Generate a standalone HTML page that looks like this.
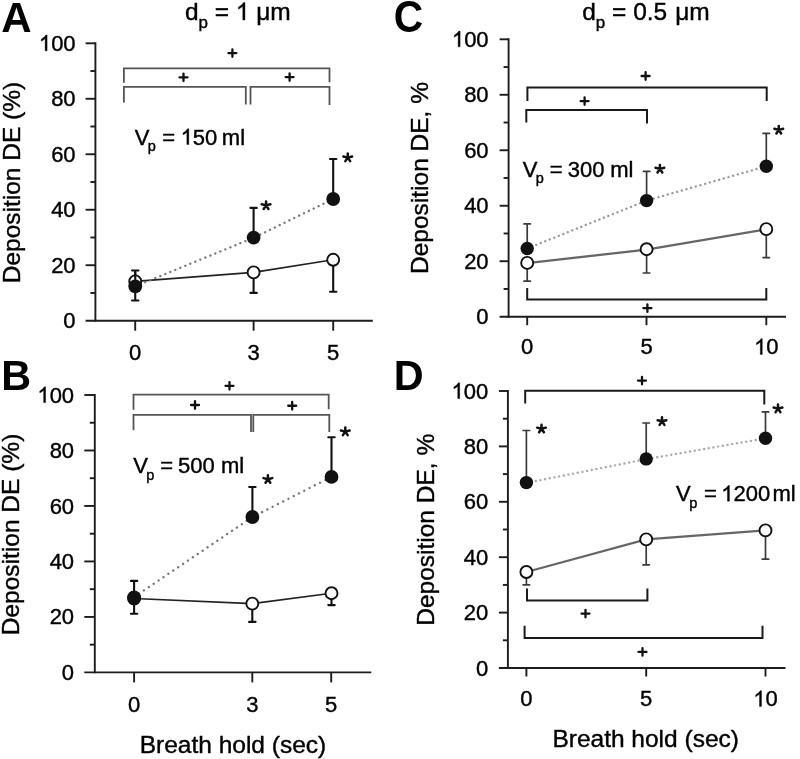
<!DOCTYPE html><html><head><meta charset="utf-8"><style>html,body{margin:0;padding:0;background:#fff;}svg{display:block;filter:blur(0.4px);}text{font-family:"Liberation Sans",sans-serif;fill:#000;stroke:#000;stroke-width:0.4px;}</style></head><body>
<svg width="800" height="759" viewBox="0 0 800 759">
<rect width="800" height="759" fill="#fff"/>
<defs><path id="one" d="M372.6,0 L284.7,0 L284.7,-560.1 Q210,-490 108.9,-441.4 L108.9,-526.4 Q240,-585 318,-715.8 L372.6,-715.8 Z" fill="#000" stroke="#000" stroke-width="0.4" vector-effect="non-scaling-stroke"/></defs>
<text x="1.35" y="31.60" font-size="42.5" font-weight="bold" style="stroke-width:0" textLength="30.36" lengthAdjust="spacingAndGlyphs" >A</text>
<text x="1.34" y="389.70" font-size="43" font-weight="bold" style="stroke-width:0" textLength="29.84" lengthAdjust="spacingAndGlyphs" >B</text>
<text x="393.73" y="32.20" font-size="44" font-weight="bold" style="stroke-width:0" textLength="29.38" lengthAdjust="spacingAndGlyphs" >C</text>
<text x="393.83" y="389.70" font-size="43" font-weight="bold" style="stroke-width:0" textLength="29.91" lengthAdjust="spacingAndGlyphs" >D</text>
<text x="184.97" y="20.00" font-size="24.5" >d</text>
<text x="198.40" y="27.60" font-size="17" >p</text>
<text x="214.70" y="20.00" font-size="24.5" >=</text>
<use href="#one" transform="translate(235.82,20.00) scale(0.02450)"/>
<text x="256.26" y="20.00" font-size="24.5" >μm</text>
<text x="582.22" y="19.90" font-size="24.5" >d</text>
<text x="595.65" y="27.50" font-size="17" >p</text>
<text x="612.05" y="19.90" font-size="24.5" >=</text>
<text x="633.17" y="19.90" font-size="24.5" >0.5</text>
<text x="675.24" y="19.90" font-size="24.5" >μm</text>
<line x1="95.40" y1="42.35" x2="95.40" y2="321.65" stroke="#1c1c1c" stroke-width="1.9" stroke-linecap="butt" />
<line x1="85.60" y1="320.70" x2="372.80" y2="320.70" stroke="#1c1c1c" stroke-width="1.9" stroke-linecap="butt" />
<line x1="90.40" y1="292.96" x2="95.40" y2="292.96" stroke="#1c1c1c" stroke-width="1.9" stroke-linecap="butt" />
<line x1="85.60" y1="265.22" x2="95.40" y2="265.22" stroke="#1c1c1c" stroke-width="1.9" stroke-linecap="butt" />
<line x1="90.40" y1="237.48" x2="95.40" y2="237.48" stroke="#1c1c1c" stroke-width="1.9" stroke-linecap="butt" />
<line x1="85.60" y1="209.74" x2="95.40" y2="209.74" stroke="#1c1c1c" stroke-width="1.9" stroke-linecap="butt" />
<line x1="90.40" y1="182.00" x2="95.40" y2="182.00" stroke="#1c1c1c" stroke-width="1.9" stroke-linecap="butt" />
<line x1="85.60" y1="154.26" x2="95.40" y2="154.26" stroke="#1c1c1c" stroke-width="1.9" stroke-linecap="butt" />
<line x1="90.40" y1="126.52" x2="95.40" y2="126.52" stroke="#1c1c1c" stroke-width="1.9" stroke-linecap="butt" />
<line x1="85.60" y1="98.78" x2="95.40" y2="98.78" stroke="#1c1c1c" stroke-width="1.9" stroke-linecap="butt" />
<line x1="90.40" y1="71.04" x2="95.40" y2="71.04" stroke="#1c1c1c" stroke-width="1.9" stroke-linecap="butt" />
<line x1="85.60" y1="43.30" x2="95.40" y2="43.30" stroke="#1c1c1c" stroke-width="1.9" stroke-linecap="butt" />
<text x="63.36" y="328.27" font-size="22" >0</text>
<text x="51.13" y="272.79" font-size="22" >20</text>
<text x="51.13" y="217.31" font-size="22" >40</text>
<text x="51.13" y="161.83" font-size="22" >60</text>
<text x="51.13" y="106.35" font-size="22" >80</text>
<use href="#one" transform="translate(38.89,50.87) scale(0.02200)"/>
<text x="51.13" y="50.87" font-size="22" >00</text>
<line x1="135.20" y1="320.70" x2="135.20" y2="330.70" stroke="#1c1c1c" stroke-width="1.9" stroke-linecap="butt" />
<text x="129.08" y="360.20" font-size="22" >0</text>
<line x1="253.60" y1="320.70" x2="253.60" y2="330.70" stroke="#1c1c1c" stroke-width="1.9" stroke-linecap="butt" />
<text x="247.48" y="360.20" font-size="22" >3</text>
<line x1="333.20" y1="320.70" x2="333.20" y2="330.70" stroke="#1c1c1c" stroke-width="1.9" stroke-linecap="butt" />
<text x="327.08" y="360.20" font-size="22" >5</text>
<text transform="translate(19.90,283.31) rotate(-90)" x="0" y="0" font-size="24.5">Deposition DE (%)</text>
<polyline points="123.90,82.70 123.90,68.30 329.50,68.30 329.50,82.20" fill="none" stroke="#555" stroke-width="1.8" />
<polyline points="123.90,102.50 123.90,86.90 245.80,86.90 245.80,104.50" fill="none" stroke="#555" stroke-width="1.8" />
<polyline points="250.50,104.50 250.50,86.90 329.50,86.90 329.50,105.00" fill="none" stroke="#555" stroke-width="1.8" />
<path d="M228.40,53.10H236.40M232.40,49.35V56.85" stroke="#111" stroke-width="2.3" stroke-linecap="round" fill="none"/>
<path d="M179.50,77.30H187.50M183.50,73.55V81.05" stroke="#111" stroke-width="2.3" stroke-linecap="round" fill="none"/>
<path d="M285.60,77.10H293.60M289.60,73.35V80.85" stroke="#111" stroke-width="2.3" stroke-linecap="round" fill="none"/>
<text x="134.80" y="144.50" font-size="22" >V</text>
<text x="147.87" y="151.10" font-size="14.5" >p</text>
<text x="162.33" y="144.50" font-size="22" >=</text>
<use href="#one" transform="translate(180.60,144.50) scale(0.02200)"/>
<text x="192.84" y="144.50" font-size="22" >50</text>
<text x="221.84" y="144.50" font-size="22" >ml</text>
<polyline points="135.25,281.40 253.60,272.40 333.20,259.80" fill="none" stroke="#222" stroke-width="1.6" />
<polyline points="135.25,286.30 253.60,237.80 333.20,199.00" fill="none" stroke="#777" stroke-width="2.4" stroke-dasharray="0.01 5.4" stroke-linecap="round"/>
<line x1="135.25" y1="286.00" x2="135.25" y2="270.50" stroke="#111" stroke-width="2.1" stroke-linecap="butt" />
<line x1="132.05" y1="270.50" x2="138.45" y2="270.50" stroke="#111" stroke-width="2.1" stroke-linecap="round" />
<line x1="135.25" y1="286.00" x2="135.25" y2="300.50" stroke="#111" stroke-width="2.1" stroke-linecap="butt" />
<line x1="132.05" y1="300.50" x2="138.45" y2="300.50" stroke="#111" stroke-width="2.1" stroke-linecap="round" />
<line x1="253.60" y1="237.60" x2="253.60" y2="207.90" stroke="#111" stroke-width="2.1" stroke-linecap="butt" />
<line x1="250.40" y1="207.90" x2="256.80" y2="207.90" stroke="#111" stroke-width="2.1" stroke-linecap="round" />
<line x1="333.20" y1="199.00" x2="333.20" y2="159.00" stroke="#111" stroke-width="2.1" stroke-linecap="butt" />
<line x1="330.00" y1="159.00" x2="336.40" y2="159.00" stroke="#111" stroke-width="2.1" stroke-linecap="round" />
<line x1="253.60" y1="272.40" x2="253.60" y2="292.90" stroke="#111" stroke-width="2.1" stroke-linecap="butt" />
<line x1="250.40" y1="292.90" x2="256.80" y2="292.90" stroke="#111" stroke-width="2.1" stroke-linecap="round" />
<line x1="333.20" y1="259.80" x2="333.20" y2="291.80" stroke="#111" stroke-width="2.1" stroke-linecap="butt" />
<line x1="330.00" y1="291.80" x2="336.40" y2="291.80" stroke="#111" stroke-width="2.1" stroke-linecap="round" />
<circle cx="135.25" cy="281.40" r="6.0" fill="#fff" stroke="#111" stroke-width="1.9"/>
<line x1="135.25" y1="281.40" x2="135.25" y2="272.00" stroke="#111" stroke-width="2.1" stroke-linecap="butt" />
<circle cx="135.25" cy="286.30" r="6.9" fill="#111" stroke="none" stroke-width="0"/>
<circle cx="253.60" cy="237.60" r="6.9" fill="#111" stroke="none" stroke-width="0"/>
<circle cx="333.20" cy="199.00" r="6.9" fill="#111" stroke="none" stroke-width="0"/>
<circle cx="253.60" cy="272.40" r="6.0" fill="#fff" stroke="#111" stroke-width="1.9"/>
<circle cx="333.20" cy="259.80" r="6.0" fill="#fff" stroke="#111" stroke-width="1.9"/>
<path d="M266.06,205.40L266.06,201.40M266.06,205.40L270.43,204.31M266.06,205.40L261.69,204.31M266.06,205.40L268.46,208.96M266.06,205.40L263.66,208.96" stroke="#111" stroke-width="2.5" stroke-linecap="round" fill="none"/>
<path d="M347.75,157.60L347.75,153.60M347.75,157.60L352.12,156.51M347.75,157.60L343.38,156.51M347.75,157.60L350.15,161.16M347.75,157.60L345.35,161.16" stroke="#111" stroke-width="2.5" stroke-linecap="round" fill="none"/>
<line x1="94.80" y1="394.05" x2="94.80" y2="673.35" stroke="#1c1c1c" stroke-width="1.9" stroke-linecap="butt" />
<line x1="84.30" y1="672.40" x2="371.30" y2="672.40" stroke="#1c1c1c" stroke-width="1.9" stroke-linecap="butt" />
<line x1="89.80" y1="644.66" x2="94.80" y2="644.66" stroke="#1c1c1c" stroke-width="1.9" stroke-linecap="butt" />
<line x1="84.30" y1="616.92" x2="94.80" y2="616.92" stroke="#1c1c1c" stroke-width="1.9" stroke-linecap="butt" />
<line x1="89.80" y1="589.18" x2="94.80" y2="589.18" stroke="#1c1c1c" stroke-width="1.9" stroke-linecap="butt" />
<line x1="84.30" y1="561.44" x2="94.80" y2="561.44" stroke="#1c1c1c" stroke-width="1.9" stroke-linecap="butt" />
<line x1="89.80" y1="533.70" x2="94.80" y2="533.70" stroke="#1c1c1c" stroke-width="1.9" stroke-linecap="butt" />
<line x1="84.30" y1="505.96" x2="94.80" y2="505.96" stroke="#1c1c1c" stroke-width="1.9" stroke-linecap="butt" />
<line x1="89.80" y1="478.22" x2="94.80" y2="478.22" stroke="#1c1c1c" stroke-width="1.9" stroke-linecap="butt" />
<line x1="84.30" y1="450.48" x2="94.80" y2="450.48" stroke="#1c1c1c" stroke-width="1.9" stroke-linecap="butt" />
<line x1="89.80" y1="422.74" x2="94.80" y2="422.74" stroke="#1c1c1c" stroke-width="1.9" stroke-linecap="butt" />
<line x1="84.30" y1="395.00" x2="94.80" y2="395.00" stroke="#1c1c1c" stroke-width="1.9" stroke-linecap="butt" />
<text x="61.86" y="679.97" font-size="22" >0</text>
<text x="49.63" y="624.49" font-size="22" >20</text>
<text x="49.63" y="569.01" font-size="22" >40</text>
<text x="49.63" y="513.53" font-size="22" >60</text>
<text x="49.63" y="458.05" font-size="22" >80</text>
<use href="#one" transform="translate(37.39,402.57) scale(0.02200)"/>
<text x="49.63" y="402.57" font-size="22" >00</text>
<line x1="134.10" y1="672.40" x2="134.10" y2="682.40" stroke="#1c1c1c" stroke-width="1.9" stroke-linecap="butt" />
<text x="127.98" y="712.20" font-size="22" >0</text>
<line x1="252.30" y1="672.40" x2="252.30" y2="682.40" stroke="#1c1c1c" stroke-width="1.9" stroke-linecap="butt" />
<text x="246.18" y="712.20" font-size="22" >3</text>
<line x1="331.20" y1="672.40" x2="331.20" y2="682.40" stroke="#1c1c1c" stroke-width="1.9" stroke-linecap="butt" />
<text x="325.08" y="712.20" font-size="22" >5</text>
<text transform="translate(19.00,635.21) rotate(-90)" x="0" y="0" font-size="24.5">Deposition DE (%)</text>
<polyline points="133.50,409.80 133.50,394.60 328.70,394.60 328.70,409.20" fill="none" stroke="#555" stroke-width="1.8" />
<polyline points="133.50,430.20 133.50,414.80 251.00,414.80 251.00,432.00" fill="none" stroke="#555" stroke-width="1.8" />
<polyline points="253.30,432.00 253.30,414.80 329.30,414.80 329.30,432.00" fill="none" stroke="#555" stroke-width="1.8" />
<path d="M225.50,385.80H233.50M229.50,382.05V389.55" stroke="#111" stroke-width="2.3" stroke-linecap="round" fill="none"/>
<path d="M191.00,405.00H199.00M195.00,401.25V408.75" stroke="#111" stroke-width="2.3" stroke-linecap="round" fill="none"/>
<path d="M288.20,405.75H296.20M292.20,402.00V409.50" stroke="#111" stroke-width="2.3" stroke-linecap="round" fill="none"/>
<text x="133.15" y="473.00" font-size="22" >V</text>
<text x="146.22" y="479.60" font-size="14.5" >p</text>
<text x="160.23" y="473.00" font-size="22" >=</text>
<text x="178.12" y="473.00" font-size="22" >500</text>
<text x="221.04" y="473.00" font-size="22" >ml</text>
<polyline points="134.10,598.50 252.30,603.60 331.50,593.20" fill="none" stroke="#222" stroke-width="1.6" />
<polyline points="134.10,597.00 252.40,517.00 331.50,476.90" fill="none" stroke="#777" stroke-width="2.4" stroke-dasharray="0.01 5.9" stroke-linecap="round"/>
<line x1="134.10" y1="597.00" x2="134.10" y2="580.90" stroke="#111" stroke-width="2.1" stroke-linecap="butt" />
<line x1="130.90" y1="580.90" x2="137.30" y2="580.90" stroke="#111" stroke-width="2.1" stroke-linecap="round" />
<line x1="134.10" y1="597.00" x2="134.10" y2="613.70" stroke="#111" stroke-width="2.1" stroke-linecap="butt" />
<line x1="130.90" y1="613.70" x2="137.30" y2="613.70" stroke="#111" stroke-width="2.1" stroke-linecap="round" />
<line x1="252.40" y1="517.00" x2="252.40" y2="487.00" stroke="#111" stroke-width="2.1" stroke-linecap="butt" />
<line x1="249.20" y1="487.00" x2="255.60" y2="487.00" stroke="#111" stroke-width="2.1" stroke-linecap="round" />
<line x1="331.50" y1="476.90" x2="331.50" y2="437.30" stroke="#111" stroke-width="2.1" stroke-linecap="butt" />
<line x1="328.30" y1="437.30" x2="334.70" y2="437.30" stroke="#111" stroke-width="2.1" stroke-linecap="round" />
<line x1="252.30" y1="603.60" x2="252.30" y2="621.90" stroke="#111" stroke-width="2.1" stroke-linecap="butt" />
<line x1="249.10" y1="621.90" x2="255.50" y2="621.90" stroke="#111" stroke-width="2.1" stroke-linecap="round" />
<line x1="331.50" y1="593.20" x2="331.50" y2="605.10" stroke="#111" stroke-width="2.1" stroke-linecap="butt" />
<line x1="328.30" y1="605.10" x2="334.70" y2="605.10" stroke="#111" stroke-width="2.1" stroke-linecap="round" />
<circle cx="134.10" cy="598.50" r="6.0" fill="#fff" stroke="#111" stroke-width="1.9"/>
<circle cx="134.10" cy="597.50" r="6.9" fill="#111" stroke="none" stroke-width="0"/>
<circle cx="252.40" cy="517.00" r="6.9" fill="#111" stroke="none" stroke-width="0"/>
<circle cx="331.50" cy="476.90" r="6.9" fill="#111" stroke="none" stroke-width="0"/>
<circle cx="252.30" cy="603.60" r="6.0" fill="#fff" stroke="#111" stroke-width="1.9"/>
<circle cx="331.50" cy="593.20" r="6.0" fill="#fff" stroke="#111" stroke-width="1.9"/>
<path d="M267.90,479.20L267.90,475.20M267.90,479.20L272.27,478.11M267.90,479.20L263.53,478.11M267.90,479.20L270.30,482.76M267.90,479.20L265.50,482.76" stroke="#111" stroke-width="2.5" stroke-linecap="round" fill="none"/>
<path d="M345.30,431.60L345.30,427.60M345.30,431.60L349.67,430.51M345.30,431.60L340.93,430.51M345.30,431.60L347.70,435.16M345.30,431.60L342.90,435.16" stroke="#111" stroke-width="2.5" stroke-linecap="round" fill="none"/>
<text x="139.69" y="752.60" font-size="24.5" >Breath hold (sec)</text>
<line x1="508.60" y1="38.35" x2="508.60" y2="317.65" stroke="#1c1c1c" stroke-width="1.9" stroke-linecap="butt" />
<line x1="499.60" y1="316.70" x2="786.00" y2="316.70" stroke="#1c1c1c" stroke-width="1.9" stroke-linecap="butt" />
<line x1="503.60" y1="288.96" x2="508.60" y2="288.96" stroke="#1c1c1c" stroke-width="1.9" stroke-linecap="butt" />
<line x1="499.60" y1="261.22" x2="508.60" y2="261.22" stroke="#1c1c1c" stroke-width="1.9" stroke-linecap="butt" />
<line x1="503.60" y1="233.48" x2="508.60" y2="233.48" stroke="#1c1c1c" stroke-width="1.9" stroke-linecap="butt" />
<line x1="499.60" y1="205.74" x2="508.60" y2="205.74" stroke="#1c1c1c" stroke-width="1.9" stroke-linecap="butt" />
<line x1="503.60" y1="178.00" x2="508.60" y2="178.00" stroke="#1c1c1c" stroke-width="1.9" stroke-linecap="butt" />
<line x1="499.60" y1="150.26" x2="508.60" y2="150.26" stroke="#1c1c1c" stroke-width="1.9" stroke-linecap="butt" />
<line x1="503.60" y1="122.52" x2="508.60" y2="122.52" stroke="#1c1c1c" stroke-width="1.9" stroke-linecap="butt" />
<line x1="499.60" y1="94.78" x2="508.60" y2="94.78" stroke="#1c1c1c" stroke-width="1.9" stroke-linecap="butt" />
<line x1="503.60" y1="67.04" x2="508.60" y2="67.04" stroke="#1c1c1c" stroke-width="1.9" stroke-linecap="butt" />
<line x1="499.60" y1="39.30" x2="508.60" y2="39.30" stroke="#1c1c1c" stroke-width="1.9" stroke-linecap="butt" />
<text x="476.36" y="324.27" font-size="22" >0</text>
<text x="464.13" y="268.79" font-size="22" >20</text>
<text x="464.13" y="213.31" font-size="22" >40</text>
<text x="464.13" y="157.83" font-size="22" >60</text>
<text x="464.13" y="102.35" font-size="22" >80</text>
<use href="#one" transform="translate(451.89,46.87) scale(0.02200)"/>
<text x="464.13" y="46.87" font-size="22" >00</text>
<line x1="527.20" y1="316.70" x2="527.20" y2="325.20" stroke="#1c1c1c" stroke-width="1.9" stroke-linecap="butt" />
<text x="521.08" y="354.40" font-size="22" >0</text>
<line x1="646.50" y1="316.70" x2="646.50" y2="325.20" stroke="#1c1c1c" stroke-width="1.9" stroke-linecap="butt" />
<text x="640.38" y="354.40" font-size="22" >5</text>
<line x1="766.30" y1="316.70" x2="766.30" y2="325.20" stroke="#1c1c1c" stroke-width="1.9" stroke-linecap="butt" />
<use href="#one" transform="translate(754.06,354.40) scale(0.02200)"/>
<text x="766.30" y="354.40" font-size="22" >0</text>
<text transform="translate(428.20,274.01) rotate(-90)" x="0" y="0" font-size="24.5">Deposition DE, %</text>
<polyline points="527.40,101.00 527.40,87.60 766.70,87.60 766.70,101.00" fill="none" stroke="#1a1a1a" stroke-width="2.0" />
<polyline points="526.30,122.50 526.30,110.10 647.00,110.10 647.00,123.50" fill="none" stroke="#1a1a1a" stroke-width="2.0" />
<polyline points="527.20,288.00 527.20,299.50 766.30,299.50 766.30,288.00" fill="none" stroke="#1a1a1a" stroke-width="2.0" />
<path d="M641.60,76.00H649.60M645.60,72.25V79.75" stroke="#111" stroke-width="2.3" stroke-linecap="round" fill="none"/>
<path d="M580.60,101.05H588.60M584.60,97.30V104.80" stroke="#111" stroke-width="2.3" stroke-linecap="round" fill="none"/>
<path d="M643.40,308.20H651.40M647.40,304.45V311.95" stroke="#111" stroke-width="2.3" stroke-linecap="round" fill="none"/>
<text x="522.70" y="176.50" font-size="22" >V</text>
<text x="535.77" y="183.10" font-size="14.5" >p</text>
<text x="549.63" y="176.50" font-size="22" >=</text>
<text x="567.86" y="176.50" font-size="22" >300</text>
<text x="610.29" y="176.50" font-size="22" >ml</text>
<polyline points="527.20,263.10 646.60,249.60 766.30,229.30" fill="none" stroke="#666" stroke-width="2.3" />
<polyline points="527.20,248.50 646.60,200.60 766.30,166.20" fill="none" stroke="#999" stroke-width="2.4" stroke-dasharray="0.01 4.85" stroke-linecap="round"/>
<line x1="527.20" y1="248.50" x2="527.20" y2="223.90" stroke="#3a3a3a" stroke-width="1.7" stroke-linecap="butt" />
<line x1="524.00" y1="223.90" x2="530.40" y2="223.90" stroke="#3a3a3a" stroke-width="1.7" stroke-linecap="round" />
<line x1="646.60" y1="200.60" x2="646.60" y2="171.40" stroke="#3a3a3a" stroke-width="1.7" stroke-linecap="butt" />
<line x1="643.40" y1="171.40" x2="649.80" y2="171.40" stroke="#3a3a3a" stroke-width="1.7" stroke-linecap="round" />
<line x1="766.30" y1="166.20" x2="766.30" y2="133.40" stroke="#3a3a3a" stroke-width="1.7" stroke-linecap="butt" />
<line x1="763.10" y1="133.40" x2="769.50" y2="133.40" stroke="#3a3a3a" stroke-width="1.7" stroke-linecap="round" />
<line x1="527.20" y1="262.90" x2="527.20" y2="281.20" stroke="#3a3a3a" stroke-width="1.7" stroke-linecap="butt" />
<line x1="524.00" y1="281.20" x2="530.40" y2="281.20" stroke="#3a3a3a" stroke-width="1.7" stroke-linecap="round" />
<line x1="646.60" y1="249.20" x2="646.60" y2="273.00" stroke="#3a3a3a" stroke-width="1.7" stroke-linecap="butt" />
<line x1="643.40" y1="273.00" x2="649.80" y2="273.00" stroke="#3a3a3a" stroke-width="1.7" stroke-linecap="round" />
<line x1="766.30" y1="229.10" x2="766.30" y2="257.60" stroke="#3a3a3a" stroke-width="1.7" stroke-linecap="butt" />
<line x1="763.10" y1="257.60" x2="769.50" y2="257.60" stroke="#3a3a3a" stroke-width="1.7" stroke-linecap="round" />
<circle cx="527.20" cy="248.50" r="6.7" fill="#111" stroke="none" stroke-width="0"/>
<circle cx="646.60" cy="200.60" r="6.7" fill="#111" stroke="none" stroke-width="0"/>
<circle cx="766.30" cy="166.20" r="6.7" fill="#111" stroke="none" stroke-width="0"/>
<circle cx="527.20" cy="262.90" r="6.0" fill="#fff" stroke="#111" stroke-width="1.9"/>
<circle cx="646.60" cy="249.20" r="6.0" fill="#fff" stroke="#111" stroke-width="1.9"/>
<circle cx="766.30" cy="229.10" r="6.0" fill="#fff" stroke="#111" stroke-width="1.9"/>
<path d="M659.90,168.90L659.90,164.90M659.90,168.90L664.27,167.81M659.90,168.90L655.53,167.81M659.90,168.90L662.30,172.46M659.90,168.90L657.50,172.46" stroke="#111" stroke-width="2.5" stroke-linecap="round" fill="none"/>
<path d="M778.75,129.90L778.75,125.90M778.75,129.90L783.12,128.81M778.75,129.90L774.38,128.81M778.75,129.90L781.15,133.46M778.75,129.90L776.35,133.46" stroke="#111" stroke-width="2.5" stroke-linecap="round" fill="none"/>
<line x1="507.90" y1="390.05" x2="507.90" y2="668.95" stroke="#1c1c1c" stroke-width="1.9" stroke-linecap="butt" />
<line x1="498.90" y1="668.00" x2="785.50" y2="668.00" stroke="#1c1c1c" stroke-width="1.9" stroke-linecap="butt" />
<line x1="502.90" y1="640.30" x2="507.90" y2="640.30" stroke="#1c1c1c" stroke-width="1.9" stroke-linecap="butt" />
<line x1="498.90" y1="612.60" x2="507.90" y2="612.60" stroke="#1c1c1c" stroke-width="1.9" stroke-linecap="butt" />
<line x1="502.90" y1="584.90" x2="507.90" y2="584.90" stroke="#1c1c1c" stroke-width="1.9" stroke-linecap="butt" />
<line x1="498.90" y1="557.20" x2="507.90" y2="557.20" stroke="#1c1c1c" stroke-width="1.9" stroke-linecap="butt" />
<line x1="502.90" y1="529.50" x2="507.90" y2="529.50" stroke="#1c1c1c" stroke-width="1.9" stroke-linecap="butt" />
<line x1="498.90" y1="501.80" x2="507.90" y2="501.80" stroke="#1c1c1c" stroke-width="1.9" stroke-linecap="butt" />
<line x1="502.90" y1="474.10" x2="507.90" y2="474.10" stroke="#1c1c1c" stroke-width="1.9" stroke-linecap="butt" />
<line x1="498.90" y1="446.40" x2="507.90" y2="446.40" stroke="#1c1c1c" stroke-width="1.9" stroke-linecap="butt" />
<line x1="502.90" y1="418.70" x2="507.90" y2="418.70" stroke="#1c1c1c" stroke-width="1.9" stroke-linecap="butt" />
<line x1="498.90" y1="391.00" x2="507.90" y2="391.00" stroke="#1c1c1c" stroke-width="1.9" stroke-linecap="butt" />
<text x="475.96" y="675.57" font-size="22" >0</text>
<text x="463.73" y="620.17" font-size="22" >20</text>
<text x="463.73" y="564.77" font-size="22" >40</text>
<text x="463.73" y="509.37" font-size="22" >60</text>
<text x="463.73" y="453.97" font-size="22" >80</text>
<use href="#one" transform="translate(451.49,398.57) scale(0.02200)"/>
<text x="463.73" y="398.57" font-size="22" >00</text>
<line x1="526.40" y1="668.00" x2="526.40" y2="676.50" stroke="#1c1c1c" stroke-width="1.9" stroke-linecap="butt" />
<text x="520.28" y="706.40" font-size="22" >0</text>
<line x1="646.20" y1="668.00" x2="646.20" y2="676.50" stroke="#1c1c1c" stroke-width="1.9" stroke-linecap="butt" />
<text x="640.08" y="706.40" font-size="22" >5</text>
<line x1="765.50" y1="668.00" x2="765.50" y2="676.50" stroke="#1c1c1c" stroke-width="1.9" stroke-linecap="butt" />
<use href="#one" transform="translate(753.26,706.40) scale(0.02200)"/>
<text x="765.50" y="706.40" font-size="22" >0</text>
<text transform="translate(434.10,625.81) rotate(-90)" x="0" y="0" font-size="24.5">Deposition DE, %</text>
<polyline points="525.20,403.50 525.20,390.80 764.30,390.80 764.30,404.50" fill="none" stroke="#1a1a1a" stroke-width="2.0" />
<polyline points="527.00,588.50 527.00,600.60 647.40,600.60 647.40,588.50" fill="none" stroke="#1a1a1a" stroke-width="2.0" />
<polyline points="524.60,625.70 524.60,638.10 762.50,638.10 762.50,625.70" fill="none" stroke="#1a1a1a" stroke-width="2.0" />
<path d="M638.00,380.60H646.00M642.00,376.85V384.35" stroke="#111" stroke-width="2.3" stroke-linecap="round" fill="none"/>
<path d="M581.50,613.60H589.50M585.50,609.85V617.35" stroke="#111" stroke-width="2.3" stroke-linecap="round" fill="none"/>
<path d="M638.50,651.90H646.50M642.50,648.15V655.65" stroke="#111" stroke-width="2.3" stroke-linecap="round" fill="none"/>
<text x="676.10" y="501.20" font-size="22" >V</text>
<text x="689.17" y="507.80" font-size="14.5" >p</text>
<text x="703.93" y="501.20" font-size="22" >=</text>
<use href="#one" transform="translate(721.20,501.20) scale(0.02200)"/>
<text x="733.44" y="501.20" font-size="22" >200</text>
<text x="772.54" y="501.20" font-size="22" >ml</text>
<polyline points="526.40,572.00 646.20,539.40 765.50,530.40" fill="none" stroke="#666" stroke-width="2.3" />
<polyline points="526.40,482.90 646.20,459.20 765.50,438.30" fill="none" stroke="#aaa" stroke-width="2.4" stroke-dasharray="0.01 4.75" stroke-linecap="round"/>
<line x1="526.40" y1="482.40" x2="526.40" y2="430.50" stroke="#3a3a3a" stroke-width="1.7" stroke-linecap="butt" />
<line x1="523.20" y1="430.50" x2="529.60" y2="430.50" stroke="#3a3a3a" stroke-width="1.7" stroke-linecap="round" />
<line x1="646.20" y1="458.70" x2="646.20" y2="423.00" stroke="#3a3a3a" stroke-width="1.7" stroke-linecap="butt" />
<line x1="643.00" y1="423.00" x2="649.40" y2="423.00" stroke="#3a3a3a" stroke-width="1.7" stroke-linecap="round" />
<line x1="765.50" y1="438.10" x2="765.50" y2="411.90" stroke="#3a3a3a" stroke-width="1.7" stroke-linecap="butt" />
<line x1="762.30" y1="411.90" x2="768.70" y2="411.90" stroke="#3a3a3a" stroke-width="1.7" stroke-linecap="round" />
<line x1="526.40" y1="572.00" x2="526.40" y2="584.90" stroke="#3a3a3a" stroke-width="1.7" stroke-linecap="butt" />
<line x1="523.20" y1="584.90" x2="529.60" y2="584.90" stroke="#3a3a3a" stroke-width="1.7" stroke-linecap="round" />
<line x1="646.20" y1="539.40" x2="646.20" y2="564.90" stroke="#3a3a3a" stroke-width="1.7" stroke-linecap="butt" />
<line x1="643.00" y1="564.90" x2="649.40" y2="564.90" stroke="#3a3a3a" stroke-width="1.7" stroke-linecap="round" />
<line x1="765.50" y1="530.40" x2="765.50" y2="559.20" stroke="#3a3a3a" stroke-width="1.7" stroke-linecap="butt" />
<line x1="762.30" y1="559.20" x2="768.70" y2="559.20" stroke="#3a3a3a" stroke-width="1.7" stroke-linecap="round" />
<circle cx="526.40" cy="482.60" r="6.7" fill="#111" stroke="none" stroke-width="0"/>
<circle cx="646.20" cy="458.90" r="6.7" fill="#111" stroke="none" stroke-width="0"/>
<circle cx="765.50" cy="438.30" r="6.7" fill="#111" stroke="none" stroke-width="0"/>
<circle cx="526.40" cy="572.00" r="6.0" fill="#fff" stroke="#111" stroke-width="1.9"/>
<circle cx="646.20" cy="539.40" r="6.0" fill="#fff" stroke="#111" stroke-width="1.9"/>
<circle cx="765.50" cy="530.40" r="6.0" fill="#fff" stroke="#111" stroke-width="1.9"/>
<path d="M541.50,428.75L541.50,424.75M541.50,428.75L545.87,427.66M541.50,428.75L537.13,427.66M541.50,428.75L543.90,432.31M541.50,428.75L539.10,432.31" stroke="#111" stroke-width="2.5" stroke-linecap="round" fill="none"/>
<path d="M662.00,421.30L662.00,417.30M662.00,421.30L666.37,420.21M662.00,421.30L657.63,420.21M662.00,421.30L664.40,424.86M662.00,421.30L659.60,424.86" stroke="#111" stroke-width="2.5" stroke-linecap="round" fill="none"/>
<path d="M778.00,408.60L778.00,404.60M778.00,408.60L782.37,407.51M778.00,408.60L773.63,407.51M778.00,408.60L780.40,412.16M778.00,408.60L775.60,412.16" stroke="#111" stroke-width="2.5" stroke-linecap="round" fill="none"/>
<text x="552.39" y="747.10" font-size="24.5" >Breath hold (sec)</text>
</svg></body></html>
